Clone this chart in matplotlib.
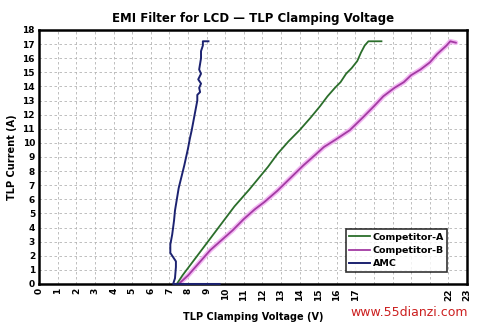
import matplotlib
matplotlib.use('Agg')
from matplotlib import pyplot as plt

# values (V, A)
amc_v = [9.7, 7.2, 7.3, 7.35, 7.35, 7.2, 7.05, 7.05, 7.15, 7.25, 7.3, 7.4, 7.5, 7.65, 7.8, 7.9,
         8.0, 8.1, 8.2, 8.3, 8.4, 8.5, 8.5, 8.65, 8.6, 8.7, 8.55, 8.7, 8.6, 8.65, 8.7, 8.7, 8.8, 8.8, 9.1]
amc_a = [0.0, 0.0, 0.4, 1.2, 1.6, 1.9, 2.2, 2.8, 3.5, 4.5, 5.2, 6.0, 6.8, 7.6, 8.4, 9.0,
         9.6, 10.3, 10.9, 11.6, 12.3, 13.0, 13.4, 13.6, 13.9, 14.2, 14.5, 14.9, 15.2, 15.6, 16.0, 16.5, 16.9, 17.2, 17.2]

comp_a_v = [7.4, 7.7, 8.1, 8.5, 8.9, 9.3, 9.7, 10.1, 10.5, 10.9, 11.3, 11.8, 12.3, 12.8, 13.4, 14.0,
            14.6, 15.1, 15.5, 15.9, 16.2, 16.5, 16.8, 17.1, 17.3, 17.5, 17.7, 18.4]
comp_a_a = [0.0, 0.6, 1.3, 2.0, 2.7, 3.4, 4.1, 4.8, 5.5, 6.1, 6.7, 7.5, 8.3, 9.2, 10.1, 10.9,
            11.8, 12.6, 13.3, 13.9, 14.3, 14.9, 15.3, 15.8, 16.4, 16.9, 17.2, 17.2]

comp_b_v = [7.5, 8.0, 8.6, 9.2, 9.8, 10.4, 11.0, 11.6, 12.1, 12.8, 13.5, 14.2, 14.8, 15.3, 15.9, 16.7,
            17.4, 18.0, 18.5, 19.1, 19.6, 20.0, 20.5, 21.0, 21.4, 21.9, 22.1, 22.4]
comp_b_a = [0.0, 0.6, 1.5, 2.4, 3.1, 3.8, 4.6, 5.3, 5.8, 6.6, 7.5, 8.4, 9.1, 9.7, 10.2, 10.9,
            11.8, 12.6, 13.3, 13.9, 14.3, 14.8, 15.2, 15.7, 16.3, 16.9, 17.2, 17.1]

x_ticks = list(range(0, 24))
x_labels = [str(t) if (t <= 17 or t >= 22) else '' for t in x_ticks]
y_ticks = list(range(0, 19))

fig = plt.figure(figsize=(4.78, 3.26), dpi=100)
ax = fig.add_axes([0.082, 0.129, 0.895, 0.779])

ax.plot(comp_b_v, comp_b_a, color='#f2b8f2', lw=3.5, solid_capstyle='round', zorder=2)
ax.plot(comp_a_v, comp_a_a, color='#2b6e2b', lw=1.3, label='Competitor-A', zorder=3)
ax.plot(comp_b_v, comp_b_a, color='#a33aa3', lw=1.3, label='Competitor-B', zorder=3)
ax.plot(amc_v, amc_a, color='#1c2270', lw=1.4, label='AMC', zorder=4, clip_on=False)

ax.set_xlim(0, 23)
ax.set_ylim(0, 18)
ax.set_xticks(x_ticks)
ax.set_xticklabels(x_labels, rotation=90, fontsize=6.5, fontweight='bold')
ax.set_yticks(y_ticks)
ax.set_yticklabels([str(t) for t in y_ticks], fontsize=6.5, fontweight='bold')
ax.tick_params(length=0, pad=3)
ax.grid(True, ls=(0, (3, 3)), color='#b4b4b4', lw=0.6)
for s in ax.spines.values():
    s.set_linewidth(1.8)
    s.set_zorder(3.5)

ax.set_xlabel('TLP Clamping Voltage (V)', fontsize=7, fontweight='bold', labelpad=8)
ax.set_ylabel('TLP Current (A)', fontsize=7, fontweight='bold', labelpad=4)
ax.set_title('EMI Filter for LCD \u2014 TLP Clamping Voltage', fontsize=8.5, fontweight='bold', pad=6)

leg = ax.legend(loc='lower right', bbox_to_anchor=(0.965, 0.03), frameon=True,
                fancybox=False, handlelength=2.2, handletextpad=0.3, borderpad=0.35,
                labelspacing=0.45, prop={'weight': 'bold', 'size': 6.8})
leg.get_frame().set_edgecolor('black')
leg.get_frame().set_linewidth(1.2)

fig.text(0.98, 0.02, 'www.55dianzi.com', color='#cc2020', fontsize=9, ha='right', va='bottom')

fig.savefig('out.png', dpi=100)
